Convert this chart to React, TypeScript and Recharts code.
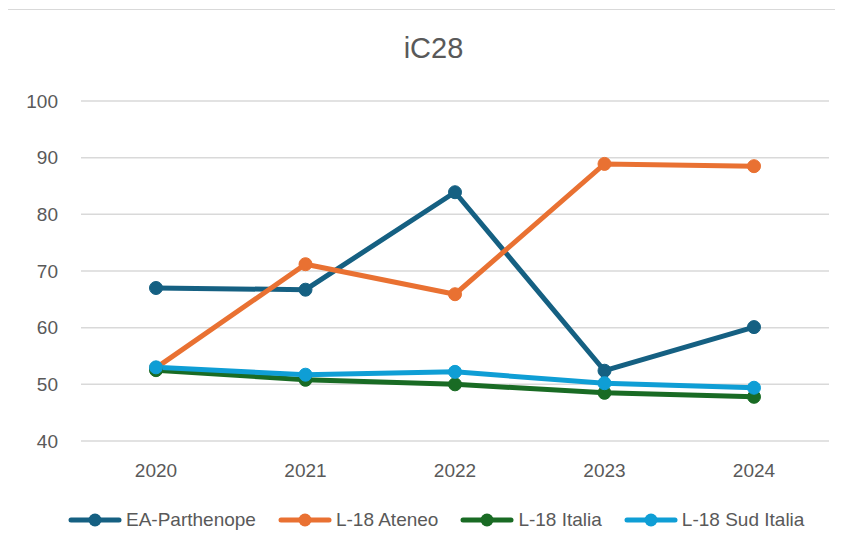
import React from "react"
import { LineChart, Line, XAxis, YAxis, CartesianGrid } from "recharts"

const years = ["2020", "2021", "2022", "2023", "2024"]
const eaParthenope = [67.0, 66.7, 83.9, 52.4, 60.1]
const l18Ateneo = [52.9, 71.2, 65.9, 88.9, 88.5]
const l18Italia = [52.5, 50.8, 50.0, 48.5, 47.8]
const l18SudItalia = [53.0, 51.7, 52.2, 50.2, 49.4]
const yTicks = [40, 50, 60, 70, 80, 90, 100]

const series = [
  { key: "ea", name: "EA-Parthenope", color: "#156082", values: eaParthenope },
  { key: "ateneo", name: "L-18 Ateneo", color: "#E97132", values: l18Ateneo },
  { key: "italia", name: "L-18 Italia", color: "#196B24", values: l18Italia },
  { key: "sud", name: "L-18 Sud Italia", color: "#0F9ED5", values: l18SudItalia },
]

const data = years.map((year, i) => {
  const row: any = { year }
  series.forEach((s) => (row[s.key] = s.values[i]))
  return row
})

const font = "'Liberation Sans', Arial, sans-serif"

function LegendIcon({ color }: { color: string }) {
  return (
    <svg width={54} height={16} style={{ marginRight: 4 }}>
      <line x1={3} y1={8} x2={51} y2={8} stroke={color} strokeWidth={5} strokeLinecap="round" />
      <circle cx={27} cy={8} r={6.5} fill={color} />
    </svg>
  )
}

export default function App() {
  return (
    <div style={{ position: "relative", width: 843, height: 550, margin: -8, background: "#fff", fontFamily: font }}>
      <div
        style={{
          position: "absolute",
          left: 5,
          top: 9,
          width: 832,
          height: 538,
          border: "1.5px solid #d9d9d9",
        }}
      />
      <div
        style={{
          position: "absolute",
          top: 31,
          left: 12,
          width: 843,
          textAlign: "center",
          fontSize: 29,
          lineHeight: "34px",
          color: "#595959",
        }}
      >
        iC28
      </div>
      <div style={{ position: "absolute", left: 0, top: 0 }}>
        <LineChart width={843} height={550} data={data} margin={{ top: 101, right: 14, left: 0, bottom: 79 }}>
          <CartesianGrid vertical={false} stroke="#d9d9d9" strokeWidth={1.5} />
          <XAxis
            dataKey="year"
            height={30}
            axisLine={false}
            tickLine={false}
            tickSize={0}
            tickMargin={23}
            padding={{ left: 75, right: 75 }}
            tick={{ fill: "#595959", fontSize: 19, fontFamily: font }}
          />
          <YAxis
            width={81}
            domain={[40, 100]}
            ticks={yTicks}
            axisLine={false}
            tickLine={false}
            tickSize={0}
            tickMargin={23}
            tick={{ fill: "#595959", fontSize: 19, fontFamily: font }}
          />
          {series.map((s) => (
            <Line
              key={s.key}
              dataKey={s.key}
              name={s.name}
              stroke={s.color}
              strokeWidth={5}
              dot={{ r: 6.5, fill: s.color, stroke: s.color, strokeWidth: 1 }}
              activeDot={false}
              isAnimationActive={false}
            />
          ))}
        </LineChart>
      </div>
      <div
        style={{
          position: "absolute",
          top: 509,
          left: 68,
          display: "flex",
          alignItems: "center",
          fontSize: 19,
          lineHeight: "22px",
          color: "#595959",
        }}
      >
        {series.map((s) => (
          <div key={s.key} style={{ display: "flex", alignItems: "center", marginRight: 22 }}>
            <LegendIcon color={s.color} />
            <span>{s.name}</span>
          </div>
        ))}
      </div>
    </div>
  )
}
